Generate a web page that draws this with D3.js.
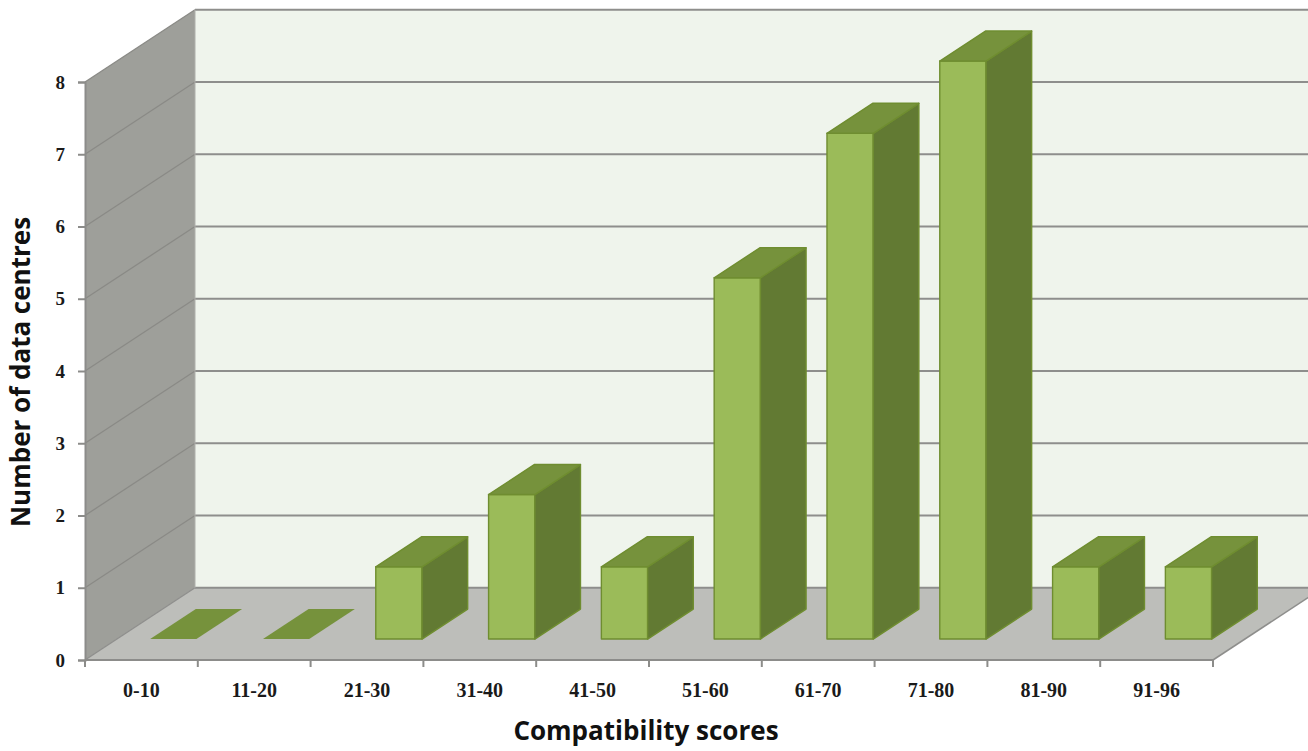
<!DOCTYPE html>
<html>
<head>
<meta charset="utf-8">
<script src="https://cdn.jsdelivr.net/npm/d3@7"></script>
<style>
  html, body { margin: 0; padding: 0; background: #ffffff; }
  svg { display: block; }
</style>
</head>
<body>
<svg id="chart" width="1308" height="751"></svg>
<script>
// Score bands and how many data centres fall in each
const categories = ["0-10", "11-20", "21-30", "31-40", "41-50", "51-60", "61-70", "71-80", "81-90", "91-96"];
const counts = [0, 0, 1, 2, 1, 5, 7, 8, 1, 1];
const yTicks = [0, 1, 2, 3, 4, 5, 6, 7, 8];
const xTitle = "Compatibility scores";
const yTitle = "Number of data centres";

const svg = d3.select("#chart");

// Front plane scales
const x = d3.scaleBand().domain(categories).range([85, 1213]);
const y = d3.scaleLinear().domain([0, 8]).range([660, 82]);

// Oblique depth of the plot box (full depth offset in pixels)
const depthDX = 110, depthDY = 72.25;
const z = d3.scaleLinear().domain([0, 1]).range([0, 1]);

// Project a front-plane x, a value and a depth fraction to screen
function P(xf, v, d) {
  return [xf + depthDX * z(d), y(v) - depthDY * z(d)];
}
const poly = pts => "M" + pts.map(p => p.join(",")).join("L") + "Z";

const x0 = x.range()[0], x1 = x.range()[1];
const vMax = y.domain()[1];

// Back wall
svg.append("path")
  .attr("d", poly([P(x0, 0, 1), P(x1 + 200, 0, 1), P(x1 + 200, vMax, 1), P(x0, vMax, 1)]))
  .attr("fill", "#eff4ec");

// Side wall
svg.append("path")
  .attr("d", poly([P(x0, 0, 0), P(x0, 0, 1), P(x0, vMax, 1), P(x0, vMax, 0)]))
  .attr("fill", "#9e9f9a");

// Floor
svg.append("path")
  .attr("d", poly([P(x0, 0, 0), P(x0, 0, 1), P(x1, 0, 1), P(x1, 0, 0)]))
  .attr("fill", "#bdbeba");

// Gridlines on the back wall and side wall
const grid = svg.append("g").attr("stroke", "#8e8e8c").attr("stroke-width", 2).attr("fill", "none");
yTicks.forEach(v => {
  const a = P(x0, v, 1), b = P(x1 + 200, v, 1);
  grid.append("line").attr("x1", a[0]).attr("y1", a[1]).attr("x2", b[0]).attr("y2", b[1]);
  if (v > 0) {
    const c = P(x0, v, 0);
    grid.append("line").attr("x1", c[0]).attr("y1", c[1]).attr("x2", a[0]).attr("y2", a[1])
      .attr("stroke-width", 1.3).attr("stroke", "#8a8a86");
  }
});
// Floor edges
{
  const a = P(x0, 0, 0), b = P(x0, 0, 1);
  grid.append("line").attr("x1", a[0]).attr("y1", a[1]).attr("x2", b[0]).attr("y2", b[1]).attr("stroke-width", 1.3);
  const c = P(x1, 0, 0), d = P(x1, 0, 1);
  grid.append("line").attr("x1", c[0]).attr("y1", c[1]).attr("x2", d[0] + 100).attr("y2", d[1] - 100 * depthDY / depthDX).attr("stroke-width", 1.5);
  const e = P(x0, 0, 1), f = P(x0, vMax, 1);
  grid.append("line").attr("x1", e[0]).attr("y1", e[1]).attr("x2", f[0]).attr("y2", f[1]).attr("stroke-width", 1).attr("stroke", "#b0b0ac");
}

// Bars
const barW = x.bandwidth() * 0.41;
const zFront = 0.29, zBack = 0.705;
const bars = svg.append("g").attr("stroke", "#6f8d30").attr("stroke-width", 1.4).attr("stroke-linejoin", "round");
categories.forEach((c, i) => {
  const v = counts[i];
  const l = x(c) + (x.bandwidth() - barW) / 2, r = l + barW;
  const g = bars.append("g");
  if (v > 0) {
    g.append("path").attr("fill", "#9bbb59")
      .attr("d", poly([P(l, 0, zFront), P(r, 0, zFront), P(r, v, zFront), P(l, v, zFront)]));
    g.append("path").attr("fill", "#627a33")
      .attr("d", poly([P(r, 0, zFront), P(r, 0, zBack), P(r, v, zBack), P(r, v, zFront)]));
  }
  g.append("path").attr("fill", "#76923c").attr("stroke", v > 0 ? "#6f8d30" : "none")
    .attr("d", poly([P(l, v, zFront), P(r, v, zFront), P(r, v, zBack), P(l, v, zBack)]));
});

// Y axis
const yAxis = svg.append("g")
  .attr("transform", `translate(${x0},0)`)
  .call(d3.axisLeft(y).tickValues(yTicks).tickFormat(d3.format("d")).tickSize(7).tickPadding(13));
yAxis.selectAll("line, path").attr("stroke", "#8c8c8a").attr("stroke-width", 2);
yAxis.selectAll("text")
  .attr("fill", "#1a1a1a")
  .style("font-family", "'Liberation Serif', 'DejaVu Serif', serif")
  .style("font-weight", "bold")
  .style("font-size", "19px");

// X axis: front edge, boundary ticks and band labels
const xAxis = svg.append("g").attr("stroke", "#8c8c8a").attr("stroke-width", 2);
xAxis.append("line").attr("x1", x0).attr("y1", y(0)).attr("x2", x1).attr("y2", y(0));
const bounds = categories.map(c => x(c)).concat([x1]);
xAxis.selectAll("line.tick").data(bounds).join("line")
  .attr("class", "tick")
  .attr("x1", d => d).attr("x2", d => d)
  .attr("y1", y(0)).attr("y2", y(0) + 7);
svg.append("g").selectAll("text").data(categories).join("text")
  .attr("x", d => x(d) + x.bandwidth() / 2)
  .attr("y", y(0) + 37)
  .attr("text-anchor", "middle")
  .attr("fill", "#1a1a1a")
  .style("font-family", "'Liberation Serif', 'DejaVu Serif', serif")
  .style("font-weight", "bold")
  .style("font-size", "20px")
  .text(d => d);

// Axis titles
svg.append("text")
  .attr("x", 646).attr("y", 740)
  .attr("text-anchor", "middle")
  .attr("fill", "#111")
  .style("font-family", "'Open Sans', Lato, sans-serif")
  .style("font-weight", "700")
  .style("font-size", "26px")
  .text(xTitle);
svg.append("text")
  .attr("transform", "translate(30,372) rotate(-90)")
  .attr("text-anchor", "middle")
  .attr("fill", "#111")
  .style("font-family", "'Open Sans', Lato, sans-serif")
  .style("font-weight", "700")
  .style("font-size", "26px")
  .text(yTitle);
</script>
</body>
</html>
